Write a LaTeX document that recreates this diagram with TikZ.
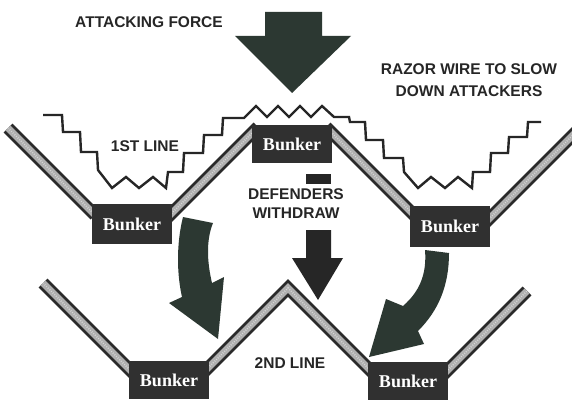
\documentclass[tikz,border=0pt]{standalone}
\usepackage{fontspec}
\setmainfont{Liberation Serif}
\newfontfamily\capsfont{Liberation Sans}
\usetikzlibrary{positioning}
\definecolor{ArmyDark}{RGB}{44, 56, 50}
\definecolor{InkDark}{RGB}{38, 38, 38}
\definecolor{BunkerGray}{RGB}{48, 48, 48}
\definecolor{TrenchDark}{RGB}{42, 42, 42}
\definecolor{TrenchFill}{RGB}{176, 176, 176}
\tikzset{
  bunker/.style={rectangle, fill=BunkerGray, text=white, minimum width=80pt, minimum height=38pt,
    inner sep=0pt, font=\bfseries\fontsize{18}{20}\selectfont},
  trench/.style={draw=TrenchDark, line width=2.8pt, double=TrenchFill, double distance=7pt},
  speckle/.style={draw=white!55!TrenchFill, line width=1.6pt, dash pattern=on 0.7pt off 1.6pt},
  wire/.style={draw=InkDark, line width=2.4pt, line join=miter},
  lbl/.style={font=\capsfont\bfseries\fontsize{15.5}{19}\selectfont, text=InkDark, align=center, inner sep=1pt},
  mass/.style={fill=ArmyDark},
}

\begin{document}
\begin{tikzpicture}[x=1pt, y=-1pt]
    \useasboundingbox (0,0) rectangle (572,401);
    \clip (0,0) rectangle (572,401);
    \fill[white] (0,0) rectangle (572,401);

    % trench lines
    \coordinate (t1a) at (8,128);   \coordinate (t1b) at (95,215);
    \coordinate (t2a) at (165,220); \coordinate (t2b) at (258,127);
    \coordinate (t3a) at (326,127); \coordinate (t3b) at (418,219);
    \coordinate (t4a) at (484,224); \coordinate (t4b) at (582,126);
    \coordinate (t5a) at (43,283);  \coordinate (t5b) at (135,375);
    \coordinate (t6a) at (200,376); \coordinate (t6m) at (288,288); \coordinate (t6b) at (378,378);
    \coordinate (t7a) at (440,378); \coordinate (t7b) at (527,291);
    \foreach \p in {{(t1a)--(t1b)}, {(t2a)--(t2b)}, {(t3a)--(t3b)}, {(t4a)--(t4b)},
                    {(t5a)--(t5b)}, {(t6a)--(t6m)--(t6b)}, {(t7a)--(t7b)}}{
      \draw[trench] \p;
      \draw[speckle] \p;
    }

    % bunkers
    \node[bunker] (bTop) at (292,144) {Bunker};
    \node[bunker, minimum height=40pt] (bL1) at (132,224) {Bunker};
    \node[bunker, minimum height=41pt] (bR1) at (450,226) {Bunker};
    \node[bunker] (bL2) at (169,380) {Bunker};
    \node[bunker] (bR2) at (408,381) {Bunker};

    % razor wire
    \draw[wire] (43,115) -- (62,115) -- (63,132) -- (80,132) -- (81,152) -- (97,152) -- (98,170)
      -- (112,188) -- (126,177) -- (139,188) -- (153,177) -- (166,188) -- (168,172) -- (183,172)
      -- (184,153) -- (203,153) -- (204,135) -- (222,135) -- (223,118) -- (244,118)
      -- (256,106) -- (267,117) -- (278,106) -- (289,117) -- (300,106) -- (311,117) -- (322,106)
      -- (334,117) -- (349,117) -- (350,122) -- (365,122) -- (366,140) -- (383,140) -- (384,158)
      -- (403,158) -- (404,172) -- (418,188) -- (431,177) -- (445,188) -- (458,177) -- (472,188)
      -- (473,172) -- (490,172) -- (491,153) -- (508,153) -- (509,137) -- (527,137) -- (528,122)
      -- (541,122);

    % arrows
    \fill[mass] (265,12) -- (322,12) -- (322,36) -- (351,36) -- (292,93) -- (235,36) -- (265,36) -- cycle;
    \fill[mass] (183,217) .. controls (176,245) and (177,275) .. (182,297) -- (169,303) -- (218,339)
      -- (224,277) -- (212,283) .. controls (207,262) and (206,240) .. (213,223) -- cycle;
    \fill[mass] (425,250) .. controls (427,275) and (419,292) .. (403,306) -- (386,299) -- (369,357)
      -- (424,344) -- (418,331) .. controls (439,310) and (449,285) .. (449,253) -- cycle;
    \fill[InkDark] (306,174) rectangle (331,184);
    \fill[InkDark] (306,230) -- (306,258) -- (292,258) -- (318,300) -- (343,258) -- (331,258) -- (331,230) -- cycle;

    % labels
    \node[lbl] (attack) at (149,22) {ATTACKING FORCE};
    \node[lbl, font=\capsfont\bfseries\fontsize{15.5}{22}\selectfont] (razor) at (469,80) {RAZOR WIRE TO SLOW\\DOWN ATTACKERS};
    \node[lbl] (first) at (145,146) {1ST LINE};
    \node[lbl] (defend) at (296,204) {DEFENDERS\\WITHDRAW};
    \node[lbl] (second) at (290,363) {2ND LINE};
  \end{tikzpicture}
\end{document}
